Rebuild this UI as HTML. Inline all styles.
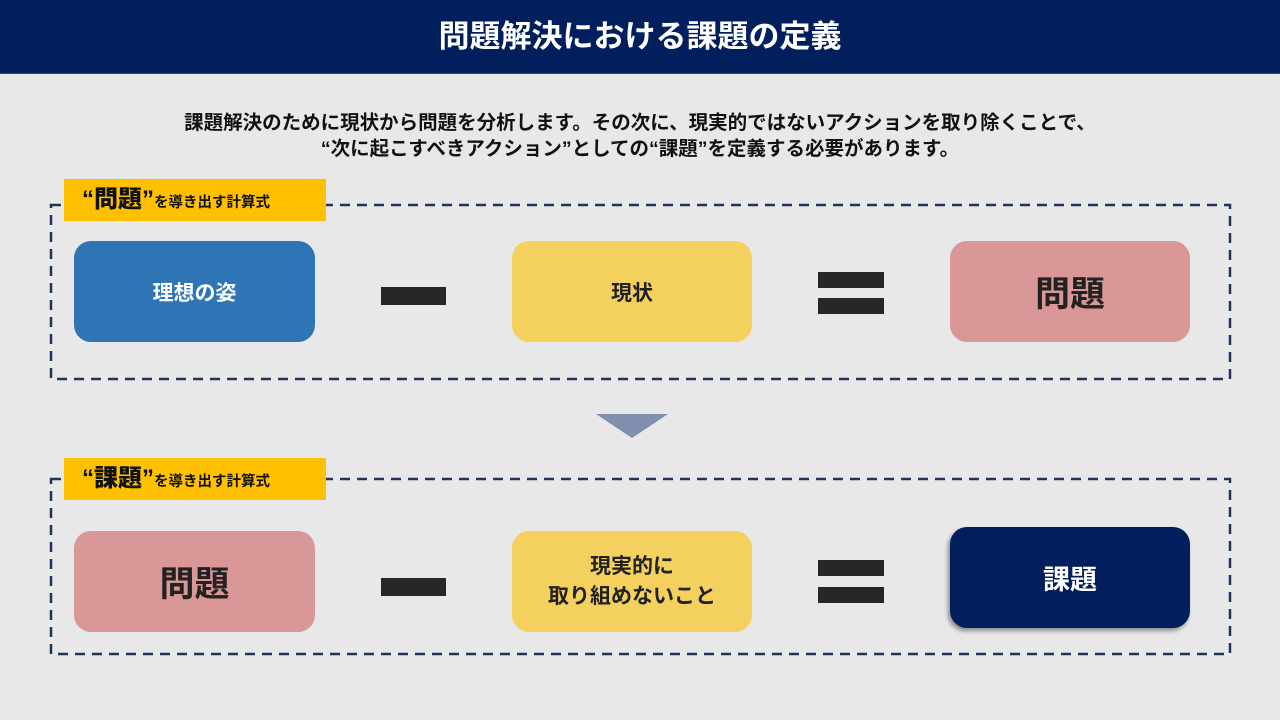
<!DOCTYPE html>
<html><head><meta charset="utf-8"><style>
body{margin:0;width:1280px;height:720px;background:#e8e8e8;position:relative;overflow:hidden;font-family:"Liberation Sans","Noto Sans CJK JP",sans-serif;font-weight:bold}
.a{position:absolute}
.title{left:0;top:0;width:1280px;height:73px;background:#001f5c;color:#fff;font-size:31px;line-height:73px;text-align:center;border-bottom:1px solid #444}
.sub{left:0;width:1280px;text-align:center;font-size:19.5px;color:#111}
.lab{background:#ffc000;font-size:14.5px;color:#111;box-sizing:border-box;padding-left:18px;line-height:42px}
.lab b{font-size:24px}
.n{border-radius:17px;display:flex;align-items:center;justify-content:center;text-align:center;color:#fff;font-size:21px}
.bar{background:#262626}
</style></head><body>
<div class="a title">問題解決における課題の定義</div>
<div class="a sub" style="top:106px">課題解決のために現状から問題を分析します。その次に、現実的ではないアクションを取り除くことで、</div>
<div class="a sub" style="top:132px">“次に起こすべきアクション”としての“課題”を定義する必要があります。</div>

<svg class="a" style="left:0;top:0" width="1280" height="720">
<rect x="51" y="205" width="1179" height="174" fill="none" stroke="#1f3457" stroke-width="2.5" stroke-dasharray="10,7"/>
<rect x="51" y="479" width="1179" height="175" fill="none" stroke="#1f3457" stroke-width="2.5" stroke-dasharray="10,7"/>
<polygon points="596,414 668,414 632,438" fill="#7f8fad"/>
</svg>
<div class="a lab" style="left:64px;top:179px;width:262px;height:42px"><b>“問題”</b>を導き出す計算式</div>
<div class="a n" style="left:74px;top:241px;width:241px;height:101px;background:#2e75b6">理想の姿</div>
<div class="a bar" style="left:381px;top:287px;width:65px;height:18px"></div>
<div class="a n" style="left:512px;top:241px;width:240px;height:101px;background:#f4d05e;color:#222">現状</div>
<div class="a bar" style="left:818px;top:272px;width:66px;height:16px"></div>
<div class="a bar" style="left:818px;top:298px;width:66px;height:16px"></div>
<div class="a n" style="left:950px;top:241px;width:240px;height:101px;background:#da9797;color:#222;font-size:35px">問題</div>

<div class="a lab" style="left:64px;top:458px;width:262px;height:42px"><b>“課題”</b>を導き出す計算式</div>
<div class="a n" style="left:74px;top:531px;width:241px;height:101px;background:#da9797;color:#222;font-size:35px">問題</div>
<div class="a bar" style="left:381px;top:578px;width:65px;height:18px"></div>
<div class="a n" style="left:512px;top:531px;width:240px;height:101px;background:#f4d05e;color:#222;line-height:30px">現実的に<br>取り組めないこと</div>
<div class="a bar" style="left:818px;top:560px;width:66px;height:16px"></div>
<div class="a bar" style="left:818px;top:587px;width:66px;height:16px"></div>
<div class="a n" style="left:950px;top:527px;width:240px;height:101px;background:#001f5c;font-size:27px;box-shadow:-2px 3px 4px rgba(0,0,0,.4)">課題</div>
</body></html>
